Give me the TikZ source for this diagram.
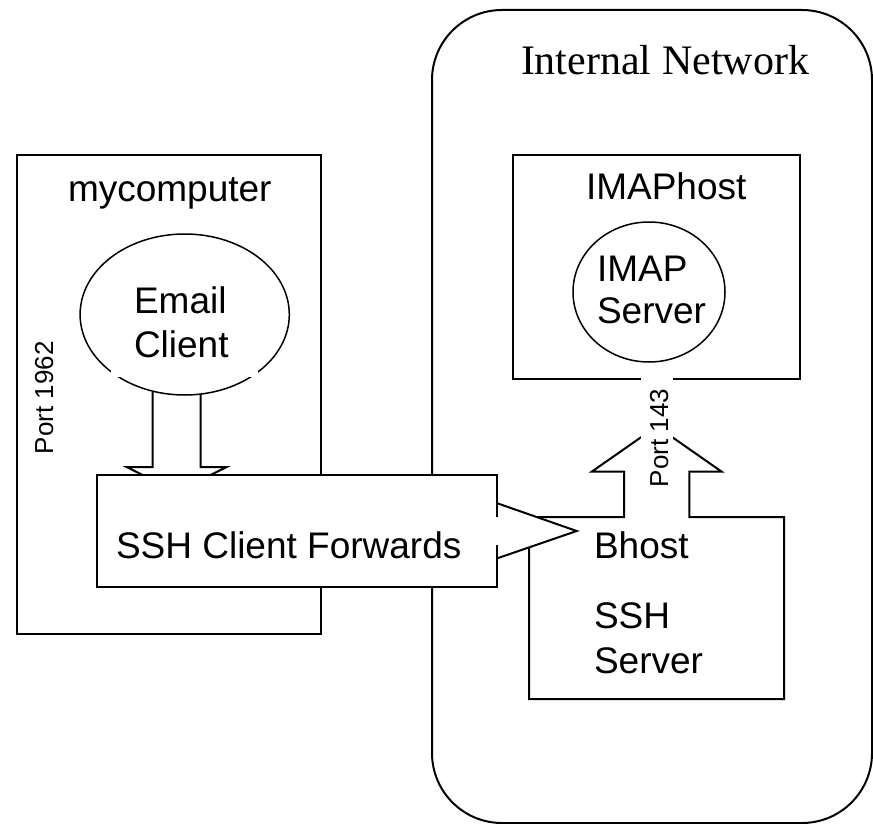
\documentclass[tikz,border=0pt]{standalone}
\usepackage{fontspec}
\setmainfont{Liberation Sans}
\newfontfamily\timesfont{Liberation Serif}
\begin{document}
\begin{tikzpicture}[x=1pt,y=-1pt,line width=2pt,
  lbl/.style={inner sep=0pt,anchor=base west,font=\fontsize{37}{44}\selectfont},
  portlbl/.style={inner sep=0pt,rotate=90,anchor=base west,font=\fontsize{26}{31}\selectfont},
  thin/.style={line width=1.5pt}]
\useasboundingbox (0,0) rectangle (873,824);
% Internal network
\draw[rounded corners=70pt] (432,10) rectangle (872,823);
% mycomputer box
\draw (17,155) rectangle (321,634);
% IMAPhost box
\draw (513,155) rectangle (800,379);
% IMAP server circle
\draw[thin] (649,292) ellipse [x radius=76, y radius=70];
% Email client ellipse
\draw[thin] (184.7,314.5) ellipse [x radius=104.6, y radius=80.5];
\fill[white] (111,340) rectangle (258,377);
% down block arrow
\draw (152.7,392) -- (152.7,467) -- (126.7,467) -- (176.7,492) -- (226.7,467) -- (200.7,467) -- (200.7,394);
% Bhost with up block arrow
\draw (529,699) -- (529,517) -- (624,517) -- (624,471.7) -- (591.7,471.7) -- (656.7,426.3)
  -- (721.7,471.7) -- (689.3,471.7) -- (689.3,517) -- (784,517) -- (784,699) -- cycle;
\fill[white] (641,374) rectangle (673,480);
% SSH client callout
\fill[white] (96.7,475) -- (497.3,475) -- (497.3,503.3) -- (576.7,531) -- (497.3,558.3)
  -- (497.3,586.7) -- (96.7,586.7) -- cycle;
\draw (497.3,516.7) -- (497.3,475) -- (96.7,475) -- (96.7,586.7) -- (497.3,586.7) -- (497.3,545);
\draw (497.3,503.3) -- (576.7,531) -- (497.3,558.3);
% texts
\node[inner sep=0pt,anchor=base west,font=\timesfont\fontsize{42}{50}\selectfont] (net) at (520,75) {Internal Network};
\node[lbl] (myc) at (67,201) {mycomputer};
\node[lbl] (em1) at (133,313) {Email};
\node[lbl] (em2) at (133,357) {Client};
\node[lbl] (imaph) at (585,200) {IMAPhost};
\node[lbl] (im1) at (596,281) {IMAP};
\node[lbl] (im2) at (596,323) {Server};
\node[lbl] (sshc) at (115,558) {SSH Client Forwards};
\node[lbl] (bh) at (593,558) {Bhost};
\node[lbl] (bs1) at (593,628) {SSH};
\node[lbl] (bs2) at (593,673) {Server};
\node[portlbl] (p1962) at (53,455) {Port 1962};
\node[portlbl] (p143) at (668,488) {Port 143};
\end{tikzpicture}
\end{document}
